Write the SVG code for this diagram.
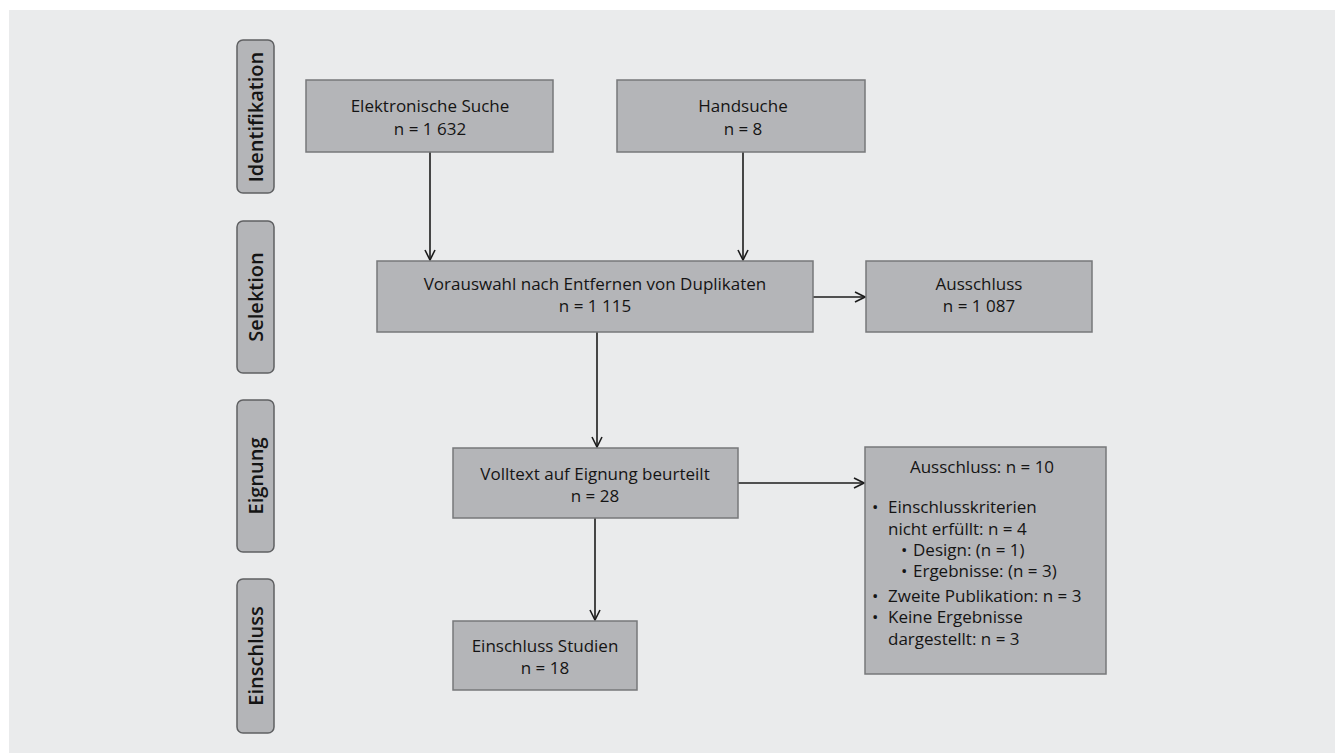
<svg xmlns="http://www.w3.org/2000/svg" width="1335" height="753" viewBox="0 0 1335 753">
<defs>
<style>
.box{fill:#b4b5b8;stroke:#77787a;stroke-width:1.5}
.tab{fill:#b4b5b8;stroke:#5f6062;stroke-width:1.5}
text{font-family:"Open Sans","Noto Sans","Liberation Sans",sans-serif;fill:#141414}
.t{font-size:17px;text-anchor:middle}
.l{font-size:17px}
.s{font-size:20px;text-anchor:middle;font-weight:600}
.c{fill:none;stroke:#1c1c1c;stroke-width:1.6}
</style>
<marker id="ah" viewBox="0 0 12 12" refX="11" refY="6" markerWidth="12" markerHeight="12" markerUnits="userSpaceOnUse" orient="auto">
<path d="M1,1 L11,6 L1,11" fill="none" stroke="#1c1c1c" stroke-width="1.6"/>
</marker>
</defs>
<rect x="0" y="0" width="1335" height="753" fill="#ffffff"/>
<rect x="9" y="10" width="1326" height="743" fill="#eaebec"/>

<g id="tab-identifikation"><rect class="tab" x="237" y="40" width="37" height="153" rx="6"/><text class="s" transform="translate(263,117) rotate(-90)">Identifikation</text></g>
<g id="tab-selektion"><rect class="tab" x="237" y="221" width="37" height="152" rx="6"/><text class="s" transform="translate(263,297) rotate(-90)">Selektion</text></g>
<g id="tab-eignung"><rect class="tab" x="237" y="400" width="37" height="152" rx="6"/><text class="s" transform="translate(263,476) rotate(-90)">Eignung</text></g>
<g id="tab-einschluss"><rect class="tab" x="237" y="579" width="37" height="154" rx="6"/><text class="s" transform="translate(263,656) rotate(-90)">Einschluss</text></g>

<g id="connectors">
<line class="c" x1="430" y1="152" x2="430" y2="260" marker-end="url(#ah)"/>
<line class="c" x1="743" y1="152" x2="743" y2="260" marker-end="url(#ah)"/>
<line class="c" x1="813" y1="297" x2="865" y2="297" marker-end="url(#ah)"/>
<line class="c" x1="597" y1="332" x2="597" y2="447" marker-end="url(#ah)"/>
<line class="c" x1="738" y1="483" x2="864" y2="483" marker-end="url(#ah)"/>
<line class="c" x1="595" y1="518" x2="595" y2="620" marker-end="url(#ah)"/>
</g>

<g id="elektronische-suche"><rect class="box" x="306" y="80" width="247" height="72"/><text class="t" x="430" y="112">Elektronische Suche</text><text class="t" x="430" y="135">n = 1 632</text></g>
<g id="handsuche"><rect class="box" x="617" y="80" width="248" height="72"/><text class="t" x="743" y="112">Handsuche</text><text class="t" x="743" y="135">n = 8</text></g>
<g id="vorauswahl"><rect class="box" x="377" y="261" width="436" height="71"/><text class="t" x="595" y="290">Vorauswahl nach Entfernen von Duplikaten</text><text class="t" x="595" y="312">n = 1 115</text></g>
<g id="ausschluss1"><rect class="box" x="866" y="261" width="226" height="71"/><text class="t" x="979" y="290">Ausschluss</text><text class="t" x="979" y="312">n = 1 087</text></g>
<g id="volltext"><rect class="box" x="453" y="448" width="285" height="70"/><text class="t" x="595" y="480">Volltext auf Eignung beurteilt</text><text class="t" x="595" y="502">n = 28</text></g>
<g id="ausschluss2"><rect class="box" x="865" y="447" width="241" height="227"/>
<text class="t" x="982" y="473">Ausschluss: n = 10</text>
<text class="l" x="872" y="513">•</text><text class="l" x="888" y="513">Einschlusskriterien</text>
<text class="l" x="888" y="535">nicht erfüllt: n = 4</text>
<text class="l" x="901" y="556">•</text><text class="l" x="913" y="556">Design: (n = 1)</text>
<text class="l" x="901" y="577">•</text><text class="l" x="913" y="577">Ergebnisse: (n = 3)</text>
<text class="l" x="872" y="602">•</text><text class="l" x="888" y="602">Zweite Publikation: n = 3</text>
<text class="l" x="872" y="623">•</text><text class="l" x="888" y="623">Keine Ergebnisse</text>
<text class="l" x="888" y="645">dargestellt: n = 3</text>
</g>
<g id="einschluss-studien"><rect class="box" x="453" y="621" width="184" height="69"/><text class="t" x="545" y="652">Einschluss Studien</text><text class="t" x="545" y="674">n = 18</text></g>
</svg>
